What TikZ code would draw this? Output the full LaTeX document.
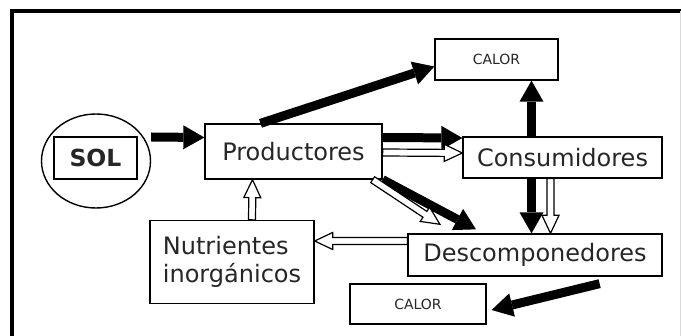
\documentclass[tikz,border=0pt]{standalone}
\usepackage{fontspec}
\setmainfont{DejaVu Sans}
\usetikzlibrary{calc,positioning,shapes.geometric,arrows.meta}

\tikzset{
  box/.style={draw, rectangle, line width=1.3pt, inner sep=0pt, text=black!85,
    font=\fontsize{24}{28}\selectfont},
  smallbox/.style={box, font=\fontsize{14}{16}\selectfont},
  blk/.style={line width=9pt, -{Triangle[length=21pt,width=24pt,line width=0pt]}},
  hollow/.style={draw, fill=white, line width=1.2pt, line join=miter}
}

% white (outlined) arrow from #1 to #2
\newcommand{\hollowarrow}[2]{%
  \filldraw[hollow] let \p1=(#1), \p2=(#2),
    \n1={atan2(\y2-\y1,\x2-\x1)}, \n2={veclen(\x2-\x1,\y2-\y1)} in
    [shift={(\x1,\y1)}, rotate=\n1]
    (0pt,-3.5pt) -- ({\n2-18pt},-3.5pt) -- ({\n2-18pt},-8.5pt) -- ({\n2+0pt},0pt)
    -- ({\n2-18pt},8.5pt) -- ({\n2-18pt},3.5pt) -- (0pt,3.5pt) -- cycle;}

\begin{document}
\begin{tikzpicture}[x=1pt,y=-1pt]
    \useasboundingbox (0,0) rectangle (681,336);
    % frame
    \draw[line width=4pt] (12,336) -- (12,11) -- (681,11);
    \draw[black!15, line width=0.8pt] (680,11) -- (680,336);

    % nodes
    \node[draw, ellipse, line width=1.4pt, minimum width=109pt, minimum height=94pt] (sun) at (96,161) {};
    \node[box, font=\bfseries\fontsize{23.5}{26}\selectfont, line width=1.6pt, minimum width=83pt, minimum height=42pt] (sol) at (95.5,158) {SOL};
    \node[box, minimum width=177pt, minimum height=55pt] (prod) at (293.5,151.5) {Productores};
    \node[smallbox, minimum width=123pt, minimum height=41pt] (calorA) at (496.5,59.5) {CALOR};
    \node[box, minimum width=199pt, minimum height=41pt] (cons) at (562.5,157.5) {Consumidores};
    \node[box, minimum width=164pt, minimum height=83pt, align=left] (nutr) at (232,262) {Nutrientes\\inorgánicos};
    \node[box, minimum width=254pt, minimum height=42pt] (desc) at (535,255) {Descomponedores};
    \node[smallbox, minimum width=136pt, minimum height=40pt] (calorB) at (418,304) {CALOR};

    % energy flow
    \draw[blk] ([yshift=24pt]sun.east) -- ([yshift=14pt]prod.west);
    \draw[blk] ([xshift=-33pt]prod.north) -- ([yshift=-7pt]calorA.west);
    \draw[blk] ([yshift=14pt]prod.east) -- ([yshift=19.5pt]cons.west);
    \draw[blk] ([xshift=-31pt]cons.north) -- ([xshift=35pt]calorA.south);
    \draw[blk] ([xshift=-31pt]cons.south) -- ([xshift=-3.5pt]desc.north);
    \draw[blk] (prod.south east) -- ([xshift=-59pt,yshift=4pt]desc.north);
    \draw[blk] ([xshift=-63pt,yshift=-7pt]desc.south east) -- ([xshift=5pt,yshift=-6pt]calorB.east);

    % matter cycle
    \hollowarrow{[yshift=-1pt]prod.east}{[yshift=4.5pt]cons.west}
    \hollowarrow{[xshift=-12pt]cons.south}{[xshift=15.5pt]desc.north}
    \hollowarrow{[xshift=-10pt]prod.south east}{[xshift=-95pt,yshift=9pt]desc.north}
    \hollowarrow{[yshift=14pt]desc.west}{[yshift=21pt]nutr.east}
    \hollowarrow{[xshift=20pt]nutr.north}{[xshift=-41pt]prod.south}
\end{tikzpicture}
\end{document}
